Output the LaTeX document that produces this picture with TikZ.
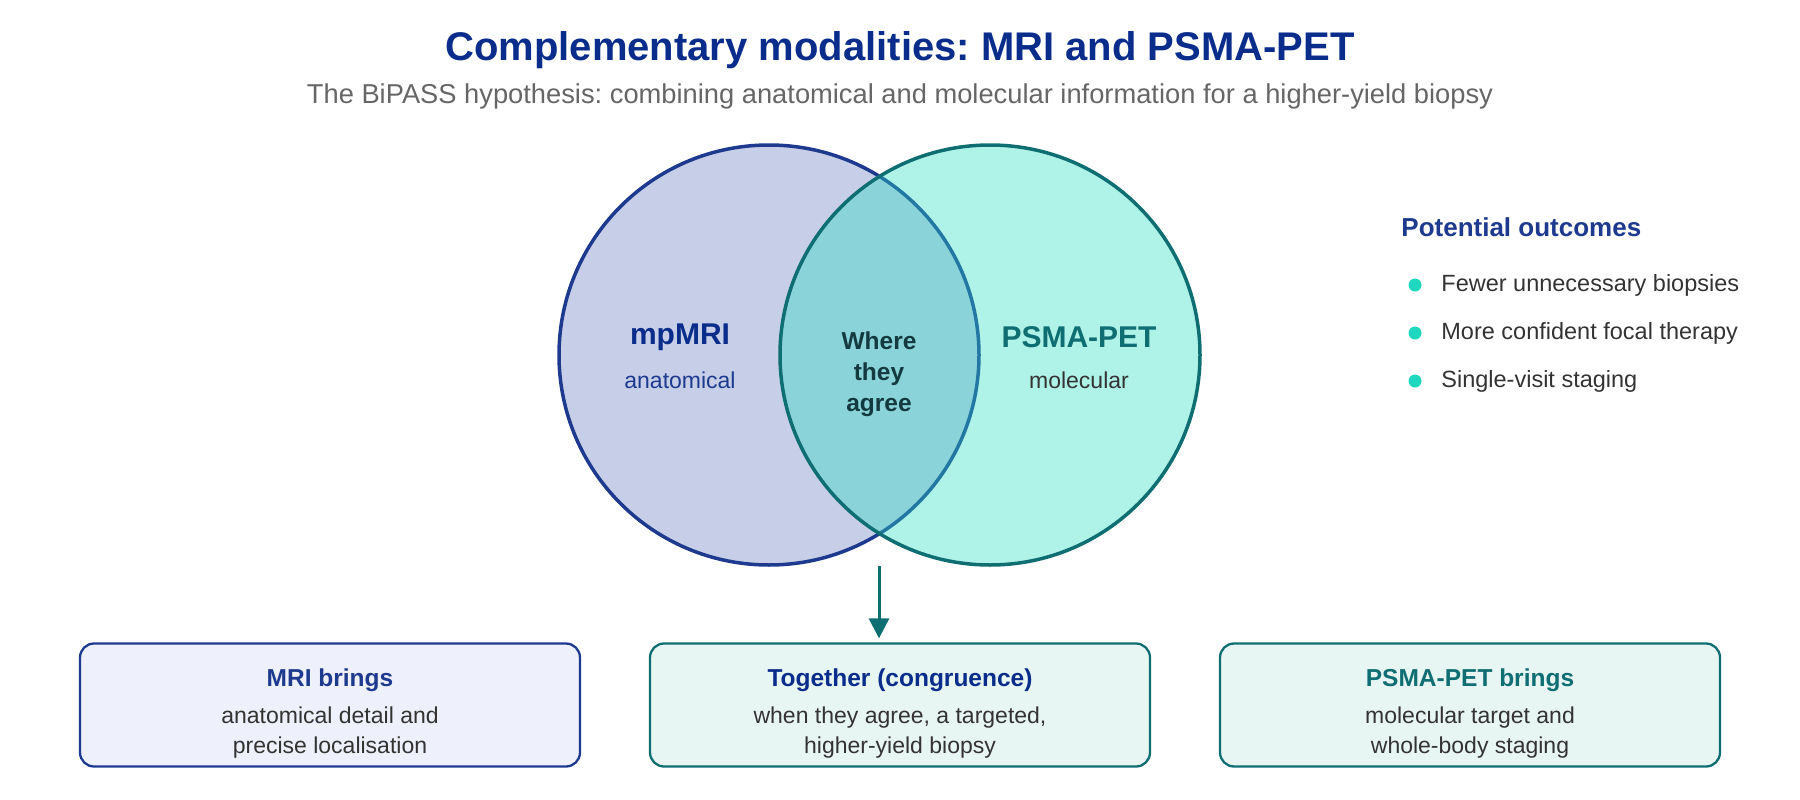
\documentclass[tikz,border=0pt]{standalone}
\usepackage{fontspec}
\setmainfont{Liberation Sans}
\usepackage{tikz}
\usetikzlibrary{arrows.meta, positioning}
\usepackage{xcolor}
\frenchspacing

\definecolor{titleblue}{HTML}{0A2D8C}
\definecolor{mriblue}{HTML}{1E3A8F}
\definecolor{mrifill}{HTML}{C6CFE7}
\definecolor{petteal}{HTML}{0F6E72}
\definecolor{petfill}{HTML}{2ADDC3}
\definecolor{agreetext}{HTML}{133A40}
\definecolor{bodygray}{HTML}{333333}
\definecolor{subgray}{HTML}{666666}
\definecolor{dotteal}{HTML}{1FD6BE}
\definecolor{mribox}{HTML}{EEF0FB}
\definecolor{petbox}{HTML}{E7F5F3}

\newcommand{\headfont}{\rule{0pt}{35pt}\fontsize{24.5}{30}\selectfont\bfseries}

\tikzset{
  infobox/.style={draw, rounded corners=14pt, line width=2.3pt, minimum width=500pt,
    minimum height=123pt, align=center, text=bodygray, font=\fontsize{23}{30}\selectfont}
}

\begin{document}
\begin{tikzpicture}[x=1pt, y=-1pt, thick]
        \useasboundingbox (0,0) rectangle (1800,800);

        % Title
        \node[font=\fontsize{40}{48}\selectfont\bfseries, text=titleblue] (title) at (900,50) {Complementary modalities: MRI and PSMA-PET};
        \node[font=\fontsize{27.3}{32}\selectfont, text=subgray] (subtitle) at (900,96) {The BiPASS hypothesis: combining anatomical and molecular information for a higher-yield biopsy};

        % Venn circles
        \node[circle, draw=mriblue, fill=mrifill, line width=3.5pt, minimum size=420pt, inner sep=0pt] (mricirc) at (769,355) {};
        \node[circle, draw=petteal, fill=petfill, fill opacity=0.38, line width=3.5pt, minimum size=420pt, inner sep=0pt] (petcirc) at (990,355) {};

        % Circle labels
        \node[font=\fontsize{30}{34}\selectfont\bfseries, text=titleblue] (mrilabel) at (680,337) {mpMRI};
        \node[font=\fontsize{23}{28}\selectfont, text=mriblue] (mrisub) at (680,380) {anatomical};
        \node[font=\fontsize{30}{34}\selectfont\bfseries, text=petteal] (petlabel) at (1079,337) {PSMA-PET};
        \node[font=\fontsize{23}{28}\selectfont, text=bodygray] (petsub) at (1079,380) {molecular};
        \node[font=\fontsize{24.5}{31}\selectfont\bfseries, text=agreetext, align=center] (agree) at (879,374.5) {Where\\they\\agree};

        % Bottom boxes
        \node[infobox, draw=mriblue, fill=mribox] (mribrings) at (330,705) {{\headfont\color{mriblue}MRI brings}\\[7pt]anatomical detail and\\precise localisation};
        \node[infobox, draw=petteal, fill=petbox] (together) at (900,705) {{\headfont\color{titleblue}Together (congruence)}\\[7pt]when they agree, a targeted,\\higher-yield biopsy};
        \node[infobox, draw=petteal, fill=petbox] (petbrings) at (1470,705) {{\headfont\color{petteal}PSMA-PET brings}\\[7pt]molecular target and\\whole-body staging};

        % Arrow
        \coordinate (arrtop) at (879,566);
        \draw[petteal, line width=3pt, -{Triangle[width=20pt, length=20pt]}, shorten >=4pt] (arrtop) -- (arrtop |- together.north);

        % Outcomes
        \node[anchor=west, inner sep=0pt, font=\fontsize{26}{30}\selectfont\bfseries, text=mriblue] (outhead) at (1401,227) {Potential outcomes};
        \foreach \t [count=\i] in {Fewer unnecessary biopsies, More confident focal therapy, Single-visit staging} {
            \fill[dotteal] (1415, 237+48*\i) circle[radius=6.5pt];
            \node[anchor=west, inner sep=0pt, font=\fontsize{23.5}{28}\selectfont, text=bodygray] (out\i) at (1441, 237+48*\i) {\t};
        }
    \end{tikzpicture}
\end{document}
